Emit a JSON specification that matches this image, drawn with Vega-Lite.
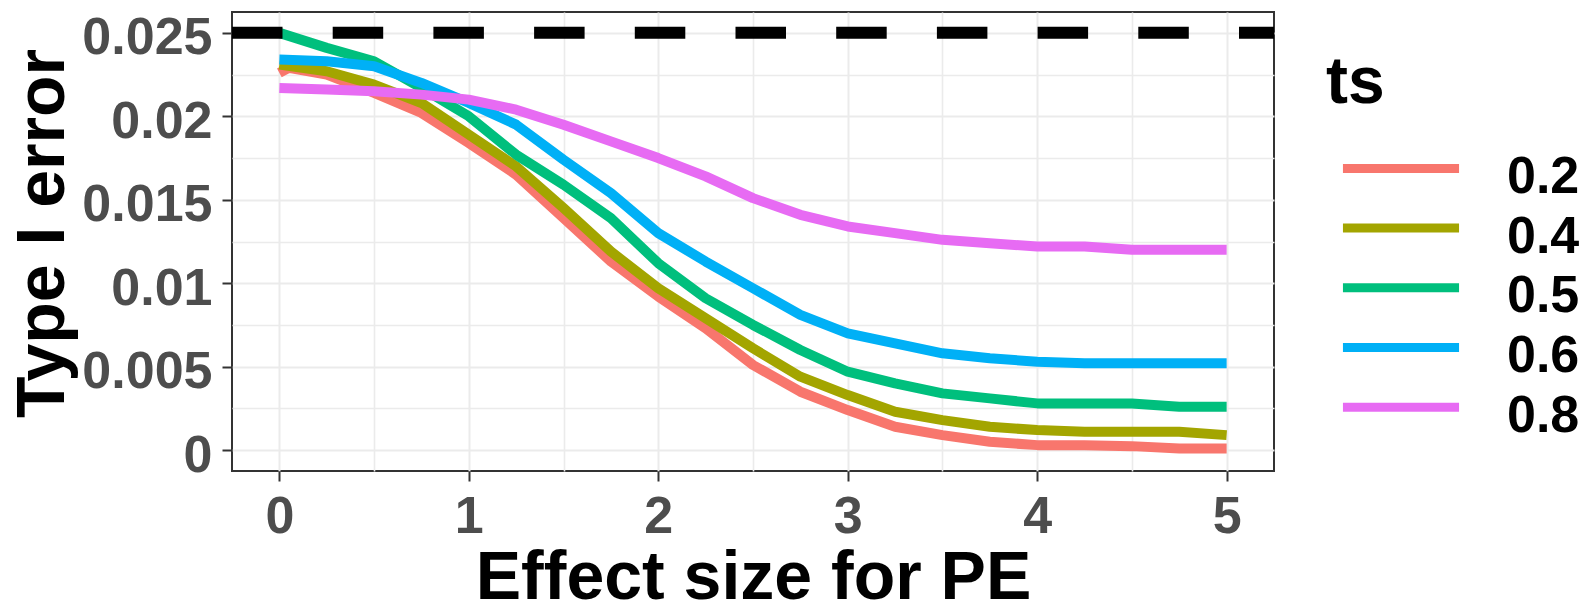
{
  "$schema": "https://vega.github.io/schema/vega-lite/v6.json",
  "width": 1042,
  "height": 459,
  "autosize": {"type": "none"},
  "padding": {"left": 232, "top": 12, "right": 315, "bottom": 131},
  "background": "white",
  "config": {
    "font": "Liberation Sans",
    "view": {"stroke": "#333333", "strokeWidth": 2},
    "axis": {
      "domain": false,
      "labelFont": "Liberation Sans",
      "labelFontSize": 52,
      "labelFontWeight": "bold",
      "labelColor": "#4D4D4D",
      "labelFlush": false,
      "labelOverlap": false,
      "labelBound": false,
      "titleFont": "Liberation Sans",
      "titleFontSize": 68,
      "titleFontWeight": "bold",
      "titleColor": "black",
      "tickColor": "#333333",
      "tickWidth": 2,
      "tickSize": 10,
      "gridColor": "#EBEBEB"
    }
  },
  "data": {
    "values": [
      {"x": 0, "ts": "0.2", "y": 0.0226}, {"x": 0.05, "ts": "0.2", "y": 0.0229}, {"x": 0.25, "ts": "0.2", "y": 0.0225}, {"x": 0.5, "ts": "0.2", "y": 0.0214}, {"x": 0.75, "ts": "0.2", "y": 0.0202}, {"x": 1, "ts": "0.2", "y": 0.0184}, {"x": 1.25, "ts": "0.2", "y": 0.0165}, {"x": 1.5, "ts": "0.2", "y": 0.0139}, {"x": 1.75, "ts": "0.2", "y": 0.0113}, {"x": 2, "ts": "0.2", "y": 0.0092}, {"x": 2.25, "ts": "0.2", "y": 0.0073}, {"x": 2.5, "ts": "0.2", "y": 0.0051}, {"x": 2.75, "ts": "0.2", "y": 0.0035}, {"x": 3, "ts": "0.2", "y": 0.0024}, {"x": 3.25, "ts": "0.2", "y": 0.0014}, {"x": 3.5, "ts": "0.2", "y": 0.0009}, {"x": 3.75, "ts": "0.2", "y": 0.0005}, {"x": 4, "ts": "0.2", "y": 0.0003}, {"x": 4.25, "ts": "0.2", "y": 0.0003}, {"x": 4.5, "ts": "0.2", "y": 0.00024}, {"x": 4.75, "ts": "0.2", "y": 0.0001}, {"x": 5, "ts": "0.2", "y": 0.0001},
      {"x": 0, "ts": "0.4", "y": 0.0231}, {"x": 0.25, "ts": "0.4", "y": 0.0227}, {"x": 0.5, "ts": "0.4", "y": 0.0219}, {"x": 0.75, "ts": "0.4", "y": 0.0208}, {"x": 1, "ts": "0.4", "y": 0.0189}, {"x": 1.25, "ts": "0.4", "y": 0.017}, {"x": 1.5, "ts": "0.4", "y": 0.0145}, {"x": 1.75, "ts": "0.4", "y": 0.0119}, {"x": 2, "ts": "0.4", "y": 0.0097}, {"x": 2.25, "ts": "0.4", "y": 0.0079}, {"x": 2.5, "ts": "0.4", "y": 0.0061}, {"x": 2.75, "ts": "0.4", "y": 0.0044}, {"x": 3, "ts": "0.4", "y": 0.0033}, {"x": 3.25, "ts": "0.4", "y": 0.0023}, {"x": 3.5, "ts": "0.4", "y": 0.0018}, {"x": 3.75, "ts": "0.4", "y": 0.0014}, {"x": 4, "ts": "0.4", "y": 0.0012}, {"x": 4.25, "ts": "0.4", "y": 0.0011}, {"x": 4.5, "ts": "0.4", "y": 0.0011}, {"x": 4.75, "ts": "0.4", "y": 0.0011}, {"x": 5, "ts": "0.4", "y": 0.0009},
      {"x": 0, "ts": "0.5", "y": 0.025}, {"x": 0.25, "ts": "0.5", "y": 0.0241}, {"x": 0.5, "ts": "0.5", "y": 0.0233}, {"x": 0.75, "ts": "0.5", "y": 0.0217}, {"x": 1, "ts": "0.5", "y": 0.02}, {"x": 1.25, "ts": "0.5", "y": 0.0177}, {"x": 1.5, "ts": "0.5", "y": 0.0159}, {"x": 1.75, "ts": "0.5", "y": 0.0139}, {"x": 2, "ts": "0.5", "y": 0.0112}, {"x": 2.25, "ts": "0.5", "y": 0.0091}, {"x": 2.5, "ts": "0.5", "y": 0.0075}, {"x": 2.75, "ts": "0.5", "y": 0.006}, {"x": 3, "ts": "0.5", "y": 0.0047}, {"x": 3.25, "ts": "0.5", "y": 0.004}, {"x": 3.5, "ts": "0.5", "y": 0.0034}, {"x": 3.75, "ts": "0.5", "y": 0.0031}, {"x": 4, "ts": "0.5", "y": 0.0028}, {"x": 4.25, "ts": "0.5", "y": 0.0028}, {"x": 4.5, "ts": "0.5", "y": 0.0028}, {"x": 4.75, "ts": "0.5", "y": 0.0026}, {"x": 5, "ts": "0.5", "y": 0.0026},
      {"x": 0, "ts": "0.6", "y": 0.0234}, {"x": 0.25, "ts": "0.6", "y": 0.0233}, {"x": 0.5, "ts": "0.6", "y": 0.023}, {"x": 0.75, "ts": "0.6", "y": 0.022}, {"x": 1, "ts": "0.6", "y": 0.0208}, {"x": 1.25, "ts": "0.6", "y": 0.0195}, {"x": 1.5, "ts": "0.6", "y": 0.0174}, {"x": 1.75, "ts": "0.6", "y": 0.0154}, {"x": 2, "ts": "0.6", "y": 0.013}, {"x": 2.25, "ts": "0.6", "y": 0.0113}, {"x": 2.5, "ts": "0.6", "y": 0.0097}, {"x": 2.75, "ts": "0.6", "y": 0.0081}, {"x": 3, "ts": "0.6", "y": 0.007}, {"x": 3.25, "ts": "0.6", "y": 0.0064}, {"x": 3.5, "ts": "0.6", "y": 0.0058}, {"x": 3.75, "ts": "0.6", "y": 0.0055}, {"x": 4, "ts": "0.6", "y": 0.0053}, {"x": 4.25, "ts": "0.6", "y": 0.0052}, {"x": 4.5, "ts": "0.6", "y": 0.0052}, {"x": 4.75, "ts": "0.6", "y": 0.0052}, {"x": 5, "ts": "0.6", "y": 0.0052},
      {"x": 0, "ts": "0.8", "y": 0.0217}, {"x": 0.25, "ts": "0.8", "y": 0.0216}, {"x": 0.5, "ts": "0.8", "y": 0.0215}, {"x": 0.75, "ts": "0.8", "y": 0.0213}, {"x": 1, "ts": "0.8", "y": 0.021}, {"x": 1.25, "ts": "0.8", "y": 0.0204}, {"x": 1.5, "ts": "0.8", "y": 0.0195}, {"x": 1.75, "ts": "0.8", "y": 0.0185}, {"x": 2, "ts": "0.8", "y": 0.0175}, {"x": 2.25, "ts": "0.8", "y": 0.0164}, {"x": 2.5, "ts": "0.8", "y": 0.0151}, {"x": 2.75, "ts": "0.8", "y": 0.0141}, {"x": 3, "ts": "0.8", "y": 0.0134}, {"x": 3.25, "ts": "0.8", "y": 0.013}, {"x": 3.5, "ts": "0.8", "y": 0.0126}, {"x": 3.75, "ts": "0.8", "y": 0.0124}, {"x": 4, "ts": "0.8", "y": 0.0122}, {"x": 4.25, "ts": "0.8", "y": 0.0122}, {"x": 4.5, "ts": "0.8", "y": 0.012}, {"x": 4.75, "ts": "0.8", "y": 0.012}, {"x": 5, "ts": "0.8", "y": 0.012}
    ]
  },
  "layer": [
    {
      "mark": {"type": "line", "strokeWidth": 10, "strokeCap": "butt", "strokeJoin": "round"},
      "encoding": {
        "x": {
          "field": "x", "type": "quantitative",
          "scale": {"domain": [-0.25, 5.25], "nice": false, "zero": false},
          "axis": {
            "title": "Effect size for PE",
            "values": [0, 0.5, 1, 1.5, 2, 2.5, 3, 3.5, 4, 4.5, 5],
            "labelExpr": "datum.value % 1 == 0 ? format(datum.value, 'd') : ''",
            "tickOpacity": {"condition": {"test": "datum.value % 1 != 0", "value": 0}, "value": 1},
            "gridWidth": {"condition": {"test": "datum.value % 1 != 0", "value": 1.6}, "value": 2},
            "labelPadding": 10,
            "titleY": 127,
            "titleBaseline": "alphabetic"
          }
        },
        "y": {
          "field": "y", "type": "quantitative",
          "scale": {"domain": [-0.00125, 0.02625], "nice": false, "zero": false},
          "axis": {
            "title": "Type I error",
            "values": [0, 0.0025, 0.005, 0.0075, 0.01, 0.0125, 0.015, 0.0175, 0.02, 0.0225, 0.025],
            "labelExpr": "round(datum.value * 10000) % 50 == 0 ? format(datum.value, '~g') : ''",
            "tickOpacity": {"condition": {"test": "round(datum.value * 10000) % 50 != 0", "value": 0}, "value": 1},
            "gridWidth": {"condition": {"test": "round(datum.value * 10000) % 50 != 0", "value": 1.6}, "value": 2},
            "labelPadding": 10,
            "labelOffset": 5,
            "titleX": -169,
            "titleY": 221,
            "titleAngle": -90,
            "titleAlign": "center",
            "titleBaseline": "alphabetic"
          }
        },
        "color": {
          "field": "ts", "type": "nominal",
          "scale": {"domain": ["0.2", "0.4", "0.5", "0.6", "0.8"], "range": ["#F8766D", "#A3A500", "#00BF7D", "#00B0F6", "#E76BF3"]},
          "legend": {
            "orient": "none",
            "legendX": 1094,
            "legendY": 39,
            "padding": 0,
            "title": "ts",
            "titleFont": "Liberation Sans",
            "titleFontSize": 66,
            "titleFontWeight": "bold",
            "titleColor": "black",
            "titlePadding": 34,
            "labelFont": "Liberation Sans",
            "labelFontSize": 52,
            "labelFontWeight": "bold",
            "labelColor": "black",
            "labelBaseline": "middle",
            "symbolType": "M-2.7,-0.4H2.7",
            "symbolSize": 1849,
            "symbolStrokeWidth": 9,
            "symbolOffset": 49,
            "labelOffset": 80,
            "rowPadding": 6.7
          }
        }
      }
    },
    {
      "data": {"values": [{"h": 0.025, "a": -0.25, "b": 5.25}]},
      "mark": {"type": "rule", "color": "black", "strokeWidth": 12, "strokeDash": [50.5, 50.2], "strokeCap": "butt"},
      "encoding": {
        "x": {"field": "a", "type": "quantitative"},
        "x2": {"field": "b"},
        "y": {"field": "h", "type": "quantitative"}
      }
    }
  ]
}
